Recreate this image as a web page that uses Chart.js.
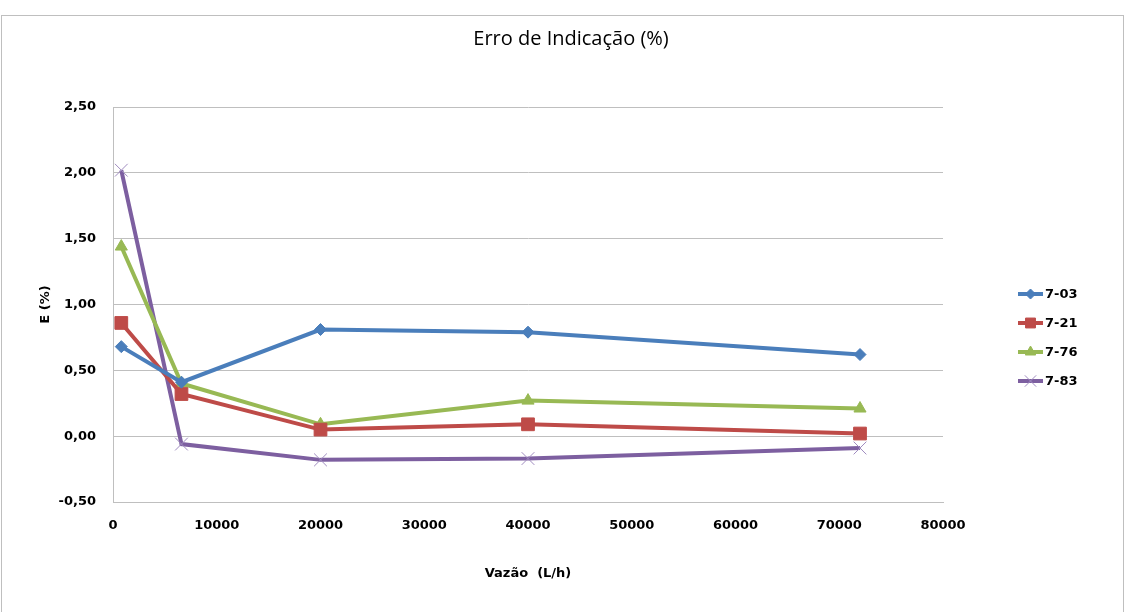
<!DOCTYPE html>
<html>
<head>
<meta charset="utf-8">
<script src="https://cdn.jsdelivr.net/npm/chart.js@4/dist/chart.umd.min.js"></script>
<style>
  html, body { margin: 0; padding: 0; background: #fff; }
  #wrap { width: 1126px; height: 612px; position: relative; }
</style>
</head>
<body>
<div id="wrap"><canvas id="chart" width="1126" height="612"></canvas></div>
<script>
// ------------------ DATA ------------------
const vazao = [800, 6600, 20000, 40000, 72000];
const serieNames = ["7-03", "7-21", "7-76", "7-83"];
const e703 = [0.68, 0.41, 0.81, 0.79, 0.62];
const e721 = [0.86, 0.32, 0.05, 0.09, 0.02];
const e776 = [1.44, 0.40, 0.09, 0.27, 0.21];
const e783 = [2.02, -0.06, -0.18, -0.17, -0.09];
const yTicks = [-0.5, 0, 0.5, 1, 1.5, 2, 2.5];
const xTicks = [0, 10000, 20000, 30000, 40000, 50000, 60000, 70000, 80000];

const FONT = "'DejaVu Sans', Verdana, sans-serif";

function pts(vals){ return vals.map((v, i) => ({ x: vazao[i], y: v })); }

function serie(name, vals, color, style, radius, extra){
  return Object.assign({
    label: name,
    data: pts(vals),
    borderColor: color,
    backgroundColor: color,
    borderWidth: 4,
    pointStyle: style,
    pointRadius: radius,
    pointHoverRadius: radius,
    pointBackgroundColor: color,
    pointBorderColor: color,
    pointBorderWidth: 1,
    tension: 0
  }, extra || {});
}

// ------------------ PLUGINS ------------------
const frame = {
  id: "frame",
  beforeDraw(chart){
    const c = chart.ctx;
    c.save();
    c.fillStyle = "#fff";
    c.fillRect(0, 0, chart.width, chart.height);
    c.strokeStyle = "#bfbfbf";
    c.lineWidth = 1;
    c.strokeRect(1.5, 15.5, 1122, 600);
    c.restore();
  }
};

// title centred on the whole frame, not only on the plot
const titleWide = {
  id: "titleWide",
  afterLayout(chart){
    if (chart.titleBlock){
      chart.titleBlock.left = 16;
      chart.titleBlock.right = 1126;
      chart.titleBlock.width = 1110;
    }
  }
};

const legendRight = {
  id: "legendRight",
  afterDraw(chart){
    const c = chart.ctx;
    const x0 = 1018, x1 = 1043, ys = [294, 323, 352, 381];
    chart.data.datasets.forEach((ds, i) => {
      const y = ys[i];
      c.save();
      c.strokeStyle = ds.borderColor;
      c.lineWidth = 4;
      c.beginPath();
      c.moveTo(x0, y);
      c.lineTo(x1, y);
      c.stroke();
      c.fillStyle = ds.pointBackgroundColor;
      c.strokeStyle = ds.pointBorderColor;
      c.lineWidth = ds.pointBorderWidth;
      Chart.helpers.drawPoint(c, {
        pointStyle: ds.pointStyle,
        radius: ds.legendRadius,
        rotation: 0,
        borderWidth: ds.pointBorderWidth
      }, (x0 + x1) / 2, y);
      c.fillStyle = "#000";
      c.font = "bold 13px " + FONT;
      c.textBaseline = "middle";
      c.textAlign = "left";
      c.fillText(ds.label, x1 + 2, y + 1);
      c.restore();
    });
  }
};

// ------------------ CHART ------------------
const ctx = document.getElementById("chart").getContext("2d");
new Chart(ctx, {
  type: "line",
  data: {
    datasets: [
      serie(serieNames[0], e703, "#4a7ebb", "rectRot", 6, { legendRadius: 5 }),
      serie(serieNames[1], e721, "#be4b48", "rect", 9, { legendRadius: 7 }),
      serie(serieNames[2], e776, "#98b954", "triangle", 7, { legendRadius: 6 }),
      serie(serieNames[3], e783, "#7d5fa0", "crossRot", 9, { pointBorderColor: "#a08cc0", pointBorderWidth: 1, legendRadius: 8 })
    ]
  },
  options: {
    responsive: false,
    animation: false,
    layout: { padding: { left: 0, right: 183, top: 0, bottom: 0 } },
    plugins: {
      legend: { display: false },
      tooltip: { enabled: false },
      title: {
        display: true,
        text: "Erro de Indicação (%)",
        color: "#000",
        font: { family: "'Open Sans', sans-serif", size: 20, weight: "normal" },
        padding: { top: 27, bottom: 56 }
      }
    },
    scales: {
      x: {
        type: "linear",
        min: 0,
        max: 80000,
        afterFit(s){ s.height = 110; },
        afterBuildTicks(s){ s.ticks = xTicks.map(v => ({ value: v })); },
        grid: { display: false, drawTicks: false },
        border: { display: true, color: "#bfbfbf", width: 1 },
        ticks: {
          padding: 16,
          color: "#000",
          maxRotation: 0,
          font: { family: FONT, size: 13, weight: "bold" },
          callback: v => String(v)
        },
        title: {
          display: true,
          text: "Vazão  (L/h)",
          color: "#000",
          font: { family: FONT, size: 13, weight: "bold" },
          padding: { top: 0, bottom: 31 }
        }
      },
      y: {
        type: "linear",
        min: -0.5,
        max: 2.5,
        afterFit(s){ s.width = 113; },
        afterBuildTicks(s){ s.ticks = yTicks.map(v => ({ value: v })); },
        grid: { color: "#bfbfbf", lineWidth: 1, drawTicks: false },
        border: { display: true, color: "#bfbfbf", width: 1 },
        ticks: {
          padding: 17,
          color: "#000",
          font: { family: FONT, size: 13, weight: "bold" },
          callback: v => v.toFixed(2).replace(".", ",")
        },
        title: {
          display: true,
          text: "E (%)",
          color: "#000",
          font: { family: FONT, size: 13, weight: "bold" },
          padding: { top: 38, bottom: 0 }
        }
      }
    }
  },
  plugins: [frame, titleWide, legendRight]
});
</script>
</body>
</html>
